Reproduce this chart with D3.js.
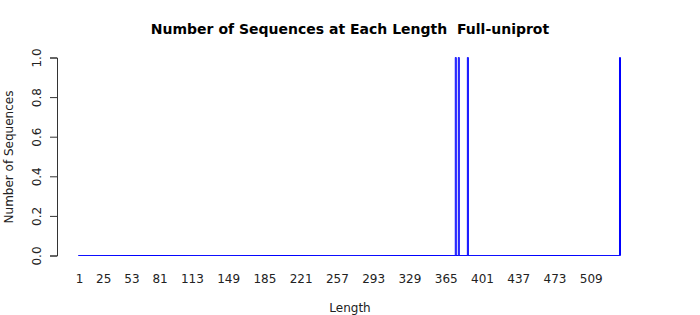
<!DOCTYPE html>
<meta charset="utf-8">
<head>
	<title>Sequence lengths</title>
</head>
<style>
	body { margin: 0; background: #fff; }
	text { font-family: "DejaVu Sans", sans-serif; }
</style>
<body>
<div id="chart"></div>

<script src="https://d3js.org/d3.v7.min.js"></script>
<script>

var maxLength = 538;
var seqLengths = [375, 378, 387, 538];
var seqCounts = [1, 1, 1, 1];
var xTickLabels = [1, 25, 53, 81, 113, 149, 185, 221, 257, 293, 329, 365, 401, 437, 473, 509];
var yTicks = [0, 0.2, 0.4, 0.6, 0.8, 1.0];

var width = 700, height = 315;

// one bar per length, zero where no sequence has that length
var bars = d3.range(1, maxLength + 1).map(function(len) {
	var i = seqLengths.indexOf(len);
	return { len: len, count: i < 0 ? 0 : seqCounts[i] };
});

var x = d3.scaleLinear().domain([1, maxLength]).range([79, 620]);
var y = d3.scaleLinear().domain([0, 1]).range([255.5, 57.5]);
var bw = (x(2) - x(1));

var svg = d3.select("#chart").append("svg")
	.attr("width", width)
	.attr("height", height);

svg.append("text")
	.attr("x", 350)
	.attr("y", 34)
	.attr("text-anchor", "middle")
	.style("font-size", "14px")
	.style("font-weight", "bold")
	.style("white-space", "pre")
	.text("Number of Sequences at Each Length  Full-uniprot");

// bars as outlines so empty ones still show on the baseline
svg.append("g").selectAll("path")
	.data(bars)
	.enter().append("path")
	.attr("d", function(d) {
		var p = d3.path();
		var x0 = x(d.len) - bw / 2, x1 = x(d.len) + bw / 2;
		p.moveTo(x0, y(0));
		p.lineTo(x0, y(d.count));
		p.lineTo(x1, y(d.count));
		p.lineTo(x1, y(0));
		p.closePath();
		return p.toString();
	})
	.attr("fill", "none")
	.attr("stroke", "#0000ff")
	.attr("stroke-width", 1);

var yAxis = svg.append("g")
	.attr("transform", "translate(57,0)")
	.call(d3.axisLeft(y).tickValues(yTicks).tickFormat(d3.format(".1f")).tickSizeOuter(0).tickSize(7).tickPadding(0));
yAxis.select(".domain").attr("stroke", "#333");
yAxis.selectAll(".tick line").attr("stroke", "#333");
yAxis.selectAll(".tick text")
	.attr("x", 0).attr("y", 0).attr("dy", 0)
	.attr("text-anchor", "middle")
	.attr("transform", "translate(-16,0) rotate(-90)")
	.style("font-size", "12px")
	.attr("fill", "#222")
	.attr("font-family", null);

var xAxis = svg.append("g")
	.attr("transform", "translate(0,255)")
	.call(d3.axisBottom(x).tickValues(xTickLabels).tickSize(0).tickPadding(19));
xAxis.select(".domain").remove();
xAxis.selectAll(".tick text")
	.style("font-size", "12px")
	.attr("fill", "#222")
	.attr("font-family", null);

svg.append("text")
	.attr("x", 350)
	.attr("y", 312)
	.attr("text-anchor", "middle")
	.style("font-size", "12px")
	.attr("fill", "#222")
	.text("Length");

svg.append("text")
	.attr("transform", "translate(13,157) rotate(-90)")
	.attr("text-anchor", "middle")
	.style("font-size", "12px")
	.attr("fill", "#222")
	.text("Number of Sequences");

</script>
</body>
</html>
